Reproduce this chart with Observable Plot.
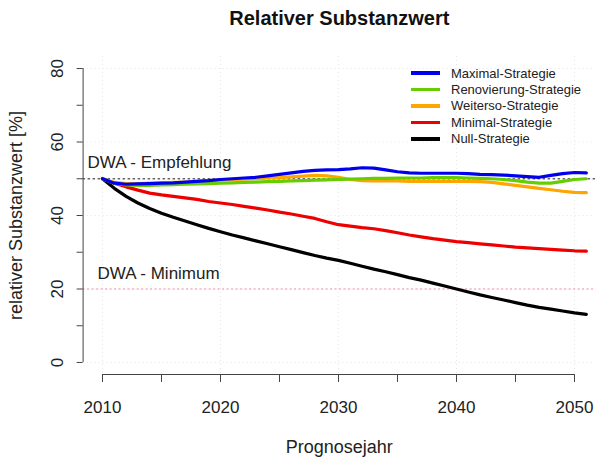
<!DOCTYPE html>
<html>
<head>
<meta charset="utf-8">
<script src="https://cdn.jsdelivr.net/npm/d3@7"></script>
<script src="https://cdn.jsdelivr.net/npm/@observablehq/plot@0.6"></script>
<style>
  html, body { margin: 0; padding: 0; background: #fff; }
  #wrap { position: relative; width: 595px; height: 458px; font-family: "Liberation Sans", Arial, sans-serif; }
  #legend { position: absolute; left: 411px; top: 65px; font-size: 13px; color: #222; }
  #legend .row { display: flex; align-items: center; height: 16.4px; }
  #legend .sw { width: 29px; height: 3.5px; margin-right: 11px; }
</style>
</head>
<body>
<div id="wrap"><div id="legend"></div></div>
<script>
// ---- data ----
const years = d3.range(2010, 2052);
const seriesNames = ["Maximal-Strategie", "Renovierung-Strategie", "Weiterso-Strategie", "Minimal-Strategie", "Null-Strategie"];
const seriesColors = ["#0000ee", "#66cd00", "#ffa500", "#ee0000", "#000000"];
const maximal = [50.0, 48.8, 48.5, 48.6, 48.7, 48.8, 48.9, 49.1, 49.3, 49.5, 49.8, 50.0, 50.2, 50.4, 50.8, 51.2, 51.6, 52.0, 52.3, 52.4, 52.5, 52.7, 53.0, 52.9, 52.4, 51.9, 51.6, 51.5, 51.5, 51.5, 51.5, 51.4, 51.2, 51.1, 51.0, 50.8, 50.6, 50.4, 50.9, 51.4, 51.7, 51.6];
const renovierung = [50.0, 48.8, 48.3, 48.2, 48.2, 48.3, 48.4, 48.5, 48.6, 48.7, 48.8, 48.9, 49.0, 49.1, 49.2, 49.3, 49.4, 49.5, 49.6, 49.7, 49.8, 49.9, 50.0, 50.1, 50.1, 50.2, 50.2, 50.2, 50.3, 50.3, 50.3, 50.2, 50.1, 50.0, 49.8, 49.5, 49.1, 48.8, 48.8, 49.3, 49.8, 50.0];
const weiterso = [50.0, 49.0, 48.7, 48.7, 48.8, 48.9, 49.0, 49.1, 49.3, 49.5, 49.6, 49.8, 49.9, 50.0, 50.2, 50.3, 50.5, 50.7, 50.9, 50.8, 50.4, 49.8, 49.5, 49.4, 49.4, 49.4, 49.3, 49.3, 49.3, 49.3, 49.3, 49.3, 49.2, 49.0, 48.6, 48.2, 47.8, 47.4, 47.0, 46.6, 46.3, 46.2];
const minimal = [50.0, 48.8, 47.8, 46.9, 46.1, 45.6, 45.2, 44.8, 44.4, 43.8, 43.4, 43.0, 42.5, 42.0, 41.5, 40.9, 40.4, 39.8, 39.2, 38.3, 37.5, 37.1, 36.7, 36.4, 35.9, 35.3, 34.7, 34.2, 33.7, 33.3, 32.9, 32.6, 32.3, 32.0, 31.7, 31.4, 31.2, 31.0, 30.8, 30.6, 30.4, 30.3];
const nullStrat = [50.0, 47.4, 45.2, 43.4, 41.9, 40.6, 39.5, 38.5, 37.5, 36.5, 35.6, 34.7, 33.9, 33.1, 32.3, 31.5, 30.7, 29.9, 29.1, 28.4, 27.8, 27.0, 26.2, 25.4, 24.7, 23.9, 23.1, 22.4, 21.6, 20.8, 20.0, 19.2, 18.4, 17.7, 17.0, 16.3, 15.6, 15.0, 14.5, 14.0, 13.5, 13.1];
const seriesValues = [maximal, renovierung, weiterso, minimal, nullStrat];
const xTickMinor = [2010, 2015, 2020, 2025, 2030, 2035, 2040, 2045, 2050];
const xTickLabels = [2010, 2020, 2030, 2040, 2050];
const yTickMinor = [0, 10, 20, 30, 40, 50, 60, 70, 80];
const yTickLabels = [0, 20, 40, 60, 80];
const refValues = [50, 20];
const refLabels = ["DWA - Empfehlung", "DWA - Minimum"];
const refColors = ["#666666", "#f08ca0"];
const titleText = "Relativer Substanzwert";
const xLabel = "Prognosejahr";
const yLabel = "relativer Substanzwert [%]";

// ---- build tidy table ----
const rows = [];
seriesNames.forEach((name, i) => {
  seriesValues[i].forEach((v, j) => rows.push({year: years[j], value: v, series: name}));
});
const xDomain = [2008.356, 2051.78];
const yDomain = [-3.27, 83.27];
const font = "Liberation Sans, Arial, sans-serif";

const chart = Plot.plot({
  width: 595,
  height: 458,
  marginLeft: 82.6,
  marginRight: 0,
  marginTop: 56,
  marginBottom: 84,
  style: {fontFamily: font, background: "white", overflow: "visible"},
  x: {domain: xDomain, axis: null},
  y: {domain: yDomain, axis: null},
  color: {domain: seriesNames, range: seriesColors},
  marks: [
    // grid
    Plot.ruleX(xTickLabels, {stroke: "#e6e6e6", strokeDasharray: "1,3", strokeWidth: 1}),
    Plot.ruleY(yTickLabels, {stroke: "#e6e6e6", strokeDasharray: "1,3", strokeWidth: 1}),
    // reference lines
    Plot.ruleY([refValues[0]], {stroke: refColors[0], strokeDasharray: "2.5,2.5", strokeWidth: 1.3}),
    Plot.ruleY([refValues[1]], {stroke: refColors[1], strokeDasharray: "2,2.5", strokeWidth: 1.1}),
    Plot.text([refLabels[0]], {x: xDomain[0], y: refValues[0], text: d => d, textAnchor: "start", lineAnchor: "middle", dx: 4.4, dy: -16, fontSize: 17, fill: "#222"}),
    Plot.text([refLabels[1]], {x: xDomain[0], y: refValues[1], text: d => d, textAnchor: "start", lineAnchor: "middle", dx: 14.4, dy: -15.5, fontSize: 17, fill: "#222"}),
    // data lines (draw in reverse so blue is on top)
    ...seriesNames.slice().reverse().map(name =>
      Plot.line(rows.filter(r => r.series === name), {x: "year", y: "value", stroke: "series", strokeWidth: 3.2, curve: "linear"})
    ),
    // y axis
    Plot.ruleX([xDomain[0]], {y1: yTickMinor[0], y2: yTickMinor[yTickMinor.length - 1], stroke: "#444", strokeWidth: 1}),
    Plot.axisY({ticks: yTickMinor, tickSize: 6, tickFormat: () => "", label: null, stroke: "#444"}),
    Plot.text(yTickLabels, {y: d => d, frameAnchor: "left", text: d => String(d), rotate: -90, dx: -26, fontSize: 17, fill: "#222", textAnchor: "middle", lineAnchor: "middle"}),
    Plot.text([yLabel], {frameAnchor: "left", text: d => d, rotate: -90, dx: -67, fontSize: 18, fill: "#222", textAnchor: "middle", lineAnchor: "middle"}),
    // x axis
    Plot.ruleY([yDomain[0]], {x1: xTickMinor[0], x2: xTickMinor[xTickMinor.length - 1], stroke: "#444", strokeWidth: 1}),
    Plot.axisX({ticks: xTickMinor, tickSize: 8, tickFormat: () => "", label: null, stroke: "#444"}),
    Plot.text(xTickLabels, {x: d => d, frameAnchor: "bottom", text: d => String(d), dy: 33, fontSize: 17, fill: "#222", lineAnchor: "middle"}),
    Plot.text([xLabel], {frameAnchor: "bottom", text: d => d, dy: 73, fontSize: 18, fill: "#222", lineAnchor: "middle"}),
    // title
    Plot.text([titleText], {frameAnchor: "top", text: d => d, dy: -38, fontSize: 20, fontWeight: "bold", fill: "#111", lineAnchor: "middle"})
  ]
});
document.getElementById("wrap").prepend(chart);

// legend
const legend = document.getElementById("legend");
seriesNames.forEach((name, i) => {
  const row = document.createElement("div");
  row.className = "row";
  const sw = document.createElement("div");
  sw.className = "sw";
  sw.style.background = seriesColors[i];
  const lab = document.createElement("span");
  lab.textContent = name;
  row.appendChild(sw);
  row.appendChild(lab);
  legend.appendChild(row);
});
</script>
</body>
</html>
